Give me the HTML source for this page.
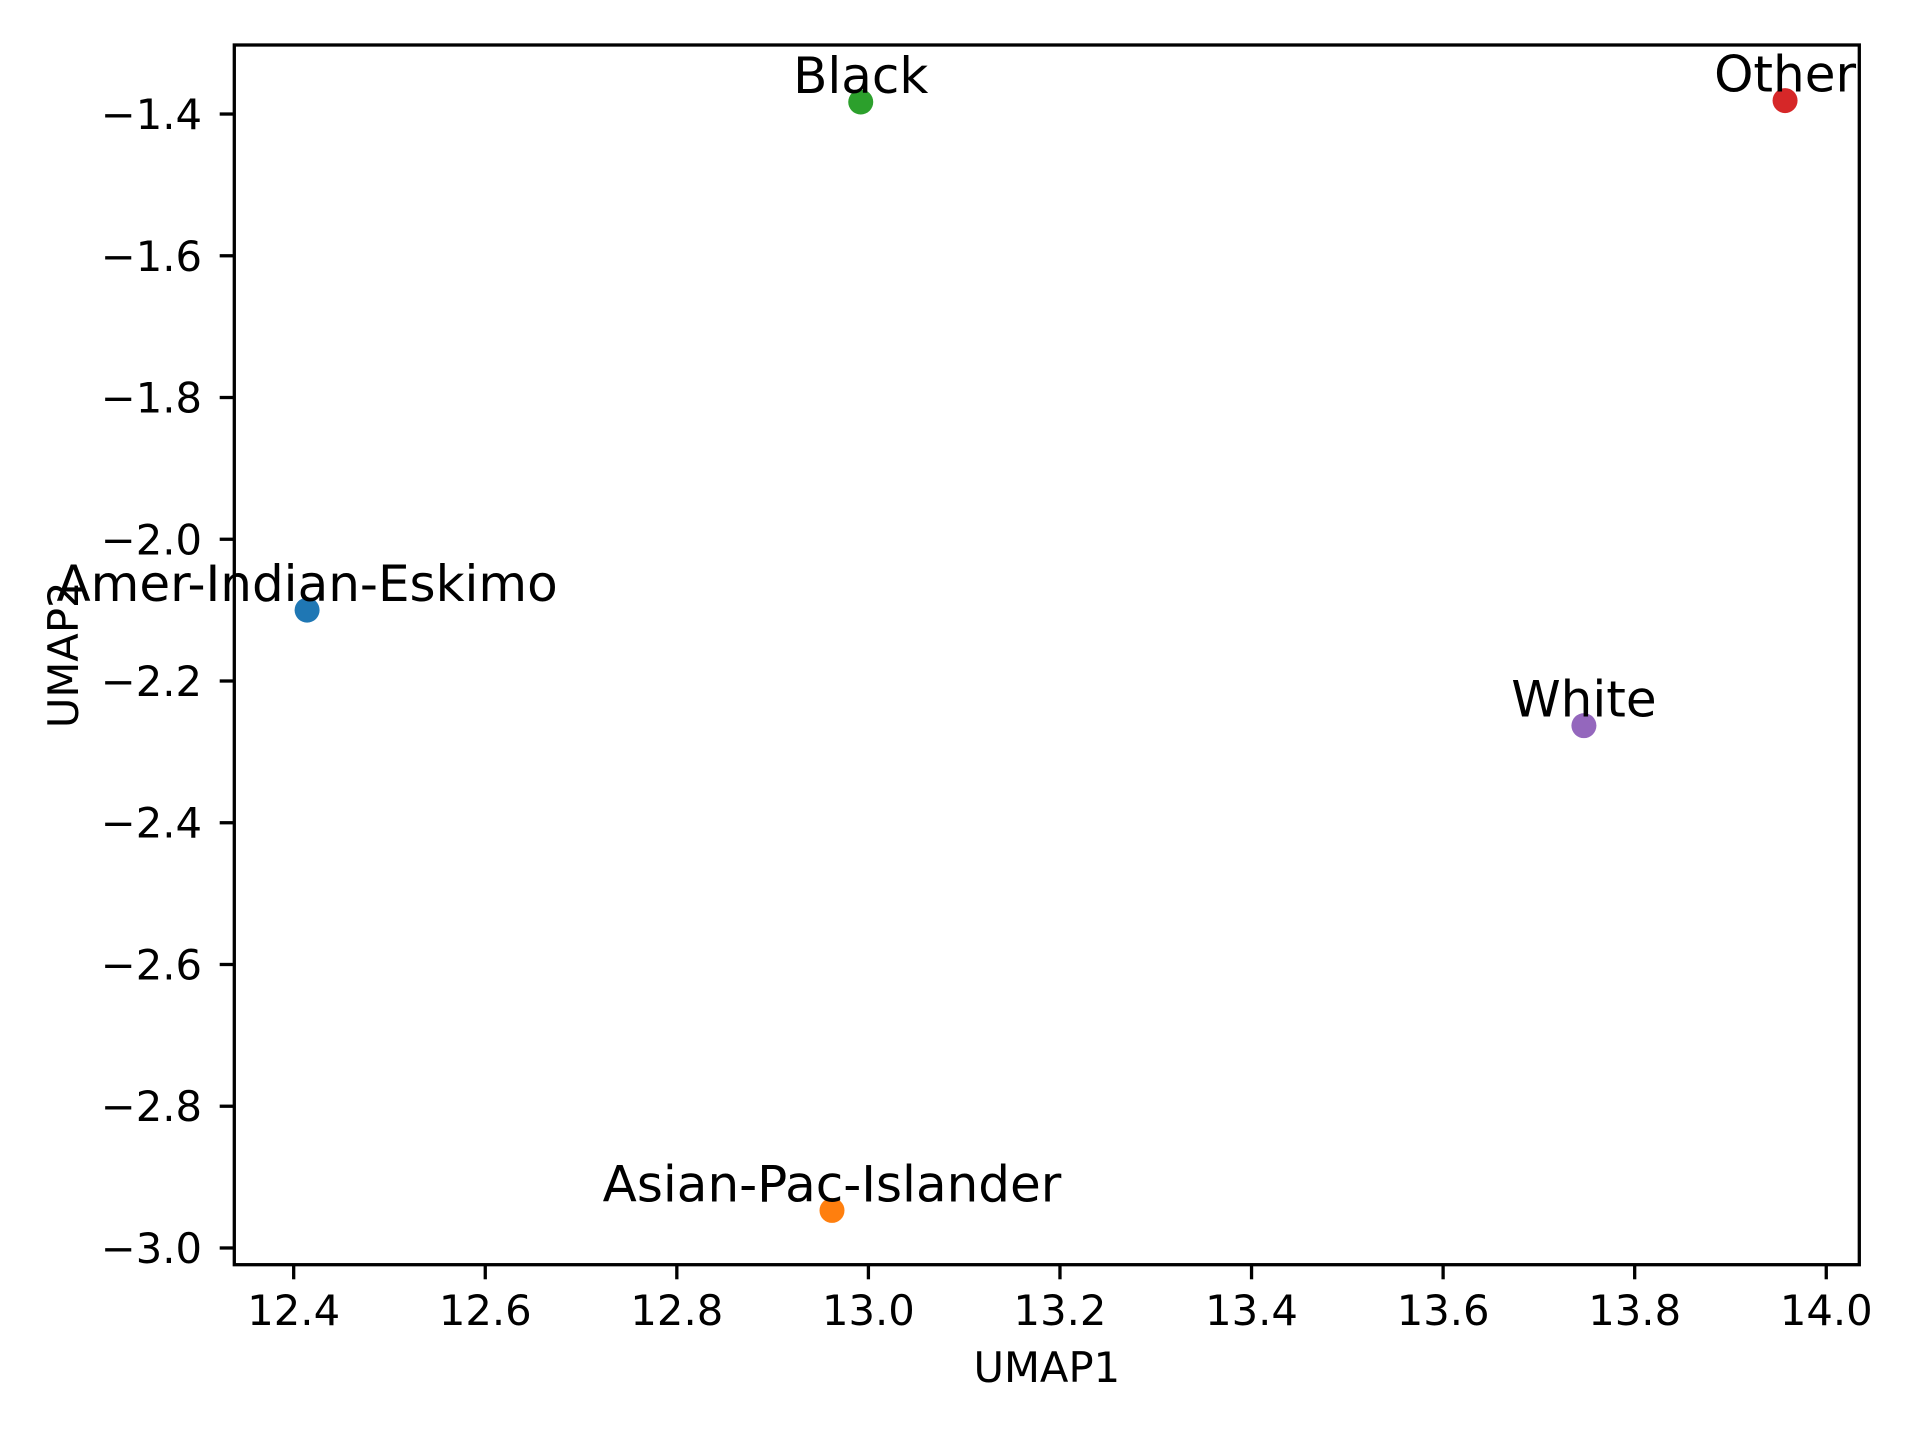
<!DOCTYPE html>
<html><head><meta charset="utf-8"><style>html,body{margin:0;padding:0;background:#fff}svg{display:block}</style></head>
<body>
<svg id="chart" width="1920" height="1440" viewBox="0 0 1920 1440" xmlns="http://www.w3.org/2000/svg" font-family="'DejaVu Sans','Liberation Sans',sans-serif">
<rect width="1920" height="1440" fill="#fff"/>
<g id="g"></g>
</svg>
<script>
const labels = ["Amer-Indian-Eskimo","Asian-Pac-Islander","Black","Other","White"];
const xs = [12.414, 12.962, 12.992, 13.957, 13.747];
const ys = [-2.100, -2.947, -1.383, -1.381, -2.263];
const colors = ["#1f77b4","#ff7f0e","#2ca02c","#d62728","#9467bd"];
const xTicks = [12.4,12.6,12.8,13.0,13.2,13.4,13.6,13.8,14.0];
const yTicks = [-1.4,-1.6,-1.8,-2.0,-2.2,-2.4,-2.6,-2.8,-3.0];

const L=234.3,R=1859.3,T=45,B=1264.7;
const xMin=12.338,xMax=14.0345,yMin=-3.0236,yMax=-1.3026;
const sx=v=>L+(v-xMin)/(xMax-xMin)*(R-L);
const sy=v=>B-(v-yMin)/(yMax-yMin)*(B-T);
const g=document.getElementById('g');
const NS="http://www.w3.org/2000/svg";
function mk(t,a){const e=document.createElementNS(NS,t);for(const k in a)e.setAttribute(k,a[k]);g.appendChild(e);return e;}
const fmt=v=>(v<0?"\u2212":"")+Math.abs(v).toFixed(1);

xTicks.forEach(v=>{
  const x=sx(v);
  const t=mk('line',{x1:x,x2:x,y1:B,y2:B+14.6,stroke:'#000','stroke-width':3.3});
  
  
  const l=mk('text',{x:x,y:1325,'text-anchor':'middle','font-size':41.7,fill:'#000'});
  l.textContent=fmt(v);
  
  
});
yTicks.forEach(v=>{
  const y=sy(v);
  const t=mk('line',{x1:L-14.6,x2:L,y1:y,y2:y,stroke:'#000','stroke-width':3.3});
  
  
  const l=mk('text',{x:202,y:y+15,'text-anchor':'end','font-size':41.7,fill:'#000'});
  l.textContent=fmt(v);
  
  
});
labels.forEach((n,i)=>{
  const c=mk('circle',{cx:sx(xs[i]),cy:sy(ys[i]),r:12.5,fill:colors[i]});
  
  
  const t=mk('text',{x:sx(xs[i]),y:sy(ys[i])-9,'text-anchor':'middle','font-size':50,fill:'#000'});
  t.textContent=n;
  
  
});
const fr=mk('rect',{x:L,y:T,width:R-L,height:B-T,fill:'none',stroke:'#000','stroke-width':3.3});


const xl=mk('text',{x:(L+R)/2,y:1382,'text-anchor':'middle','font-size':41.7,fill:'#000'});
xl.textContent='UMAP1';


const yl=mk('text',{x:0,y:0,'text-anchor':'middle','font-size':41.7,fill:'#000',transform:'translate(78,'+((T+B)/2)+') rotate(-90)'});
yl.textContent='UMAP2';


</script>
</body></html>
